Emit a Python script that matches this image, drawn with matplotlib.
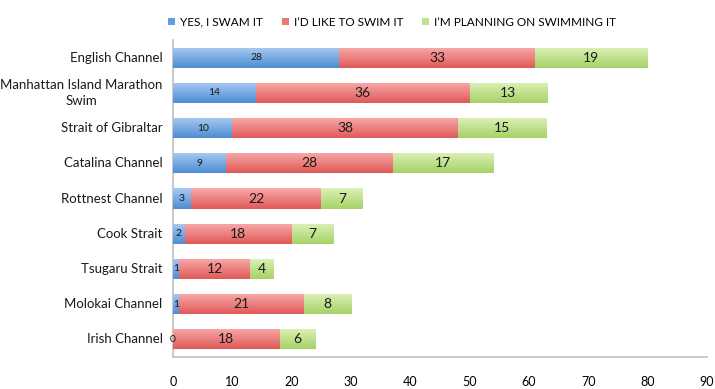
import matplotlib
matplotlib.use("Agg")
import matplotlib.pyplot as plt
import numpy as np
from matplotlib.colors import LinearSegmentedColormap
from matplotlib.patches import Patch

categories = ["English Channel", "Manhattan Island Marathon\nSwim", "Strait of Gibraltar",
              "Catalina Channel", "Rottnest Channel", "Cook Strait", "Tsugaru Strait",
              "Molokai Channel", "Irish Channel"]
swam = [28, 14, 10, 9, 3, 2, 1, 1, 0]
like = [33, 36, 38, 28, 22, 18, 12, 21, 18]
planning = [19, 13, 15, 17, 7, 7, 4, 8, 6]
series_names = ["YES, I SWAM IT", "I\u2019D LIKE TO SWIM IT", "I\u2019M PLANNING ON SWIMMING IT"]
x_ticks = [0, 10, 20, 30, 40, 50, 60, 70, 80, 90]

plt.rcParams['font.family'] = ['Lato', 'DejaVu Sans']
fig = plt.figure(figsize=(7.15, 3.89), dpi=100)
ax = fig.add_axes([173/715, 1-357/389, (707-173)/715, (357-40)/389])

grads = [("#a9cbf3", "#4c8cd4"), ("#f8aaaa", "#df5a58"), ("#dcf1b8", "#a6d266")]
solid = ["#5f9de0", "#ea7a78", "#bde38a"]
y = np.arange(len(categories))
left = np.zeros(len(categories))
h = 0.57
grad = np.linspace(0, 1, 64).reshape(-1, 1)
for vals, (top, bot), sc in zip([swam, like, planning], grads, solid):
    cmap = LinearSegmentedColormap.from_list("g", [top, bot])
    bars = ax.barh(y, vals, left=left, height=h, color=sc, edgecolor="none", zorder=2)
    for b in bars:
        bx, by = b.get_x(), b.get_y()
        bw, bh = b.get_width(), b.get_height()
        if bw <= 0:
            continue
        im = ax.imshow(grad, cmap=cmap, aspect="auto", extent=[bx, bx + bw, by + bh, by],
                       zorder=3, interpolation="bilinear")
        im.set_clip_path(b)
    left = left + np.array(vals)

# value labels
left = np.zeros(len(categories))
for si, vals in enumerate([swam, like, planning]):
    for i, v in enumerate(vals):
        cx = left[i] + v / 2
        fs = 7.5 if si == 0 else 10
        ax.text(cx, i, str(v), ha="center", va="center", fontsize=fs, color="#1a1a1a", zorder=5)
    left = left + np.array(vals)

ax.set_xlim(0, 90)
ax.set_ylim(len(categories) - 0.5, -0.5)
ax.set_xticks(x_ticks)
ax.set_xticklabels([str(t) for t in x_ticks], fontsize=9)
ax.set_yticks(y)
ax.set_yticklabels([""] * len(categories))
for i, c in enumerate(categories):
    ax.annotate(c, xy=(0, i), xycoords=("axes fraction", "data"), xytext=(-7.5, 0),
                textcoords="offset points", ha="right", va="center", multialignment="center",
                fontsize=9.5, linespacing=1.35, color="#1a1a1a")
ax.tick_params(axis="both", length=0, pad=8)
ax.tick_params(axis="x", pad=14)
for s in ["top", "right"]:
    ax.spines[s].set_visible(False)
ax.spines["left"].set_color("#bfbfbf")
ax.spines["bottom"].set_color("#bfbfbf")
ax.spines["left"].set_linewidth(1.2)
ax.spines["bottom"].set_linewidth(1.2)

handles = [Patch(facecolor=c, edgecolor="none") for c in solid]
fig.legend(handles, series_names, loc="center", bbox_to_anchor=(392/715, 1-22/389), ncol=3,
           frameon=False, fontsize=8.5, handlelength=0.6, handleheight=0.6, handletextpad=0.4,
           columnspacing=1.6)

fig.savefig("out.png", dpi=100)
